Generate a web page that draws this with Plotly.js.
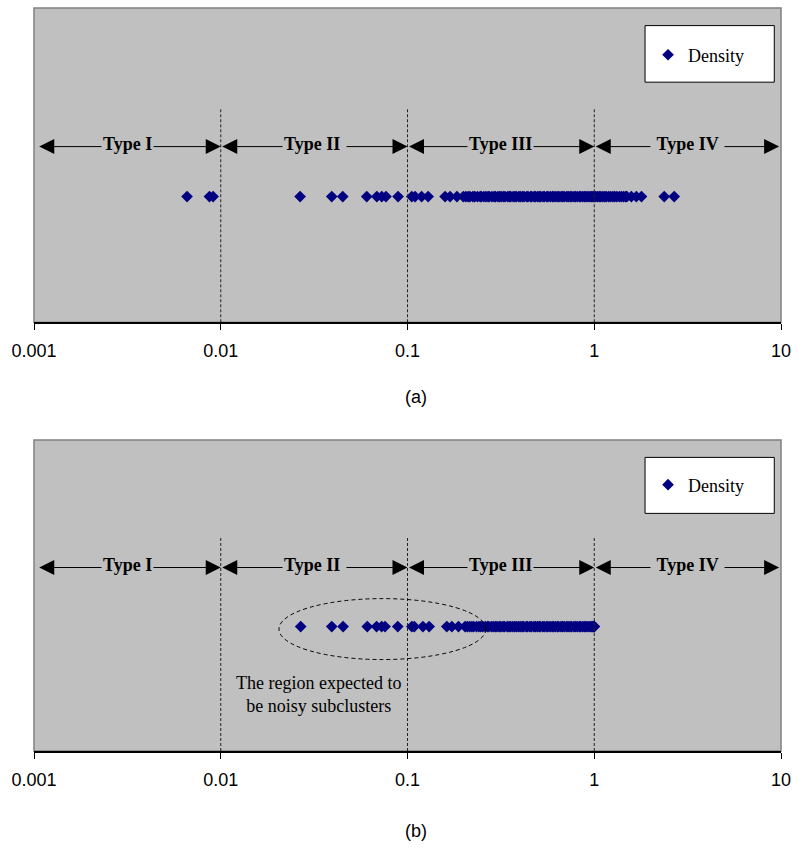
<!DOCTYPE html>
<html><head><meta charset="utf-8">
<script src="https://cdn.plot.ly/plotly-3.0.1.min.js"></script>
<style>html,body{margin:0;padding:0;background:#fff}</style>
</head><body><div id="chart" style="width:797px;height:848px"></div>
<script>
// ---- data ----
const densityA = [
  0.0066, 0.0087, 0.0091,
  0.0266, 0.0393, 0.0450, 0.0605, 0.0685, 0.0728, 0.0767, 0.0890,
  0.1054, 0.1098, 0.1190, 0.1290, 0.1590, 0.1690, 0.1840, 0.1990,
  0.2050, 0.2110, 0.2160, 0.2240, 0.2290, 0.2370, 0.2450, 0.2480, 0.2560, 0.2630,
  0.2700, 0.2740, 0.2830, 0.2910, 0.2960, 0.3050, 0.3120, 0.3180, 0.3270, 0.3330,
  0.3440, 0.3510, 0.3570, 0.3680, 0.3760, 0.3830, 0.3950, 0.4020, 0.4130, 0.4210,
  0.4350, 0.4420, 0.4560, 0.4630, 0.4770, 0.4850, 0.4980, 0.5090, 0.5170, 0.5320,
  0.5410, 0.5580, 0.5660, 0.5820, 0.5970, 0.6080, 0.6230, 0.6390, 0.6470, 0.6650,
  0.6790, 0.6920, 0.7130, 0.7260, 0.7440, 0.7580, 0.7790, 0.7930, 0.8120, 0.8340,
  0.8470, 0.8690, 0.8880, 0.9050, 0.9270, 0.9480, 0.9660, 0.9830, 0.9970, 1.0180,
  1.0420, 1.0650, 1.0860, 1.1130, 1.1390, 1.1620, 1.1950, 1.2240, 1.2580, 1.2870,
  1.3210, 1.3620, 1.3980, 1.4350, 1.4720, 1.4950, 1.5800, 1.6800, 1.7900,
  2.3700, 2.6800
];
const densityB = [
  0.0268, 0.0393, 0.0452, 0.0609, 0.0683, 0.0727, 0.0758, 0.0887,
  0.1055, 0.1087, 0.1209, 0.1306, 0.1623, 0.1728, 0.1875, 0.2035,
  0.2090, 0.2150, 0.2210, 0.2260, 0.2340, 0.2410, 0.2470, 0.2530, 0.2610, 0.2680,
  0.2720, 0.2810, 0.2880, 0.2950, 0.3020, 0.3100, 0.3160, 0.3250, 0.3310, 0.3420,
  0.3490, 0.3560, 0.3650, 0.3740, 0.3820, 0.3920, 0.4010, 0.4110, 0.4190, 0.4320,
  0.4400, 0.4530, 0.4610, 0.4750, 0.4840, 0.4960, 0.5070, 0.5150, 0.5300, 0.5400,
  0.5550, 0.5650, 0.5800, 0.5950, 0.6060, 0.6210, 0.6370, 0.6450, 0.6630, 0.6770,
  0.6900, 0.7100, 0.7240, 0.7420, 0.7560, 0.7770, 0.7910, 0.8100, 0.8310, 0.8450,
  0.8670, 0.8850, 0.9030, 0.9250, 0.9460, 0.9640, 0.9810, 0.9920, 1.0000, 1.0000
];
const seriesName = 'Density';
const typeLabels = ['Type I', 'Type II', 'Type III', 'Type IV'];
const typeBounds = [0.001, 0.01, 0.1, 1, 10];
const tickVals = [0.001, 0.01, 0.1, 1, 10];
const tickText = ['0.001', '0.01', '0.1', '1', '10'];
const panelLabels = ['(a)', '(b)'];
const noteText = 'The region expected to<br>be noisy subclusters';
const noiseRegion = [0.0205, 0.2627];

// ---- styling / layout ----
const NAVY = '#000080';
const SERIF = 'Liberation Serif, Times New Roman, serif';
const SANS = 'Liberation Sans, Arial, sans-serif';
const L = Math.log10;

const panels = [
  {xa: 'x', ya: 'y', data: densityA, rowY: 0.40, arrowY: 0.559, dashTop: 0.682, legend: 'legend'},
  {xa: 'x2', ya: 'y2', data: densityB, rowY: 0.40, arrowY: 0.590, dashTop: 0.686, legend: 'legend2'}
];

const traces = panels.map(p => ({
  type: 'scatter', mode: 'markers', name: seriesName,
  x: p.data, y: p.data.map(() => p.rowY),
  xaxis: p.xa, yaxis: p.ya, legend: p.legend, showlegend: true,
  marker: {symbol: 'diamond', size: 9, color: NAVY, line: {width: 0}},
  hoverinfo: 'x'
}));

const shapes = [];
const annotations = [];
const lastI = typeBounds.length - 1;
const labelText = ['Type I', 'Type II&nbsp;', 'Type III', '&nbsp;Type IV&nbsp;'];

panels.forEach((p, k) => {
  const xd = p.xa + ' domain', yd = p.ya + ' domain';
  shapes.push({type: 'rect', xref: xd, yref: yd, x0: 0, x1: 1, y0: 0, y1: 1,
    line: {color: '#808080', width: 1.5}, layer: 'below'});
  typeBounds.slice(1, lastI).forEach(b => {
    shapes.push({type: 'line', xref: p.xa, yref: p.ya, x0: b, x1: b, y0: 0, y1: p.dashTop,
      line: {color: '#222', width: 1, dash: '3px,2px'}, layer: 'above'});
  });
  shapes.push({type: 'rect', xref: xd, yref: yd, x0: 0.818, x1: 0.991, y0: 0.764, y1: 0.944,
    fillcolor: '#fff', line: {color: '#000', width: 1}, layer: 'above'});
  for (let i = 0; i < typeLabels.length; i++) {
    let a = L(typeBounds[i]), b = L(typeBounds[i + 1]);
    if (i === 0) a += 0.02;
    if (i === typeLabels.length - 1) b -= 0.01;
    annotations.push({xref: p.xa, yref: p.ya, axref: p.xa, ayref: p.ya,
      x: b, y: p.arrowY, ax: a, ay: p.arrowY, text: '', showarrow: true,
      arrowside: 'end+start', arrowhead: 2, startarrowhead: 2,
      arrowsize: 3, startarrowsize: 3, arrowwidth: 1, arrowcolor: '#000'});
    annotations.push({xref: p.xa, yref: p.ya, x: (L(typeBounds[i]) + L(typeBounds[i + 1])) / 2,
      y: p.arrowY, yshift: 3, text: '<b>' + labelText[i] + '</b>', showarrow: false,
      bgcolor: '#c0c0c0', borderpad: 1,
      font: {family: SERIF, size: 18, color: '#000'}});
  }
  annotations.push({xref: 'paper', yref: 'paper', x: 0.511, y: k === 0 ? 0.476 : -0.108,
    xanchor: 'center', yanchor: 'middle',
    text: panelLabels[k], showarrow: false, font: {family: SANS, size: 18, color: '#000'}});
});

shapes.push({type: 'circle', xref: 'x2', yref: 'y2', x0: noiseRegion[0], x1: noiseRegion[1],
  y0: 0.294, y1: 0.490, line: {color: '#000', width: 1, dash: '4px,3px'}, layer: 'above'});
annotations.push({xref: 'x2', yref: 'y2', x: (L(noiseRegion[0]) + L(noiseRegion[1])) / 2 - 0.34,
  y: 0.182, text: noteText, showarrow: false, align: 'center',
  font: {family: SERIF, size: 18, color: '#000'}});

const xaxisBase = {
  type: 'log', range: [-3, 1], tickvals: tickVals, ticktext: tickText,
  ticks: 'outside', ticklen: 6, tickcolor: '#000', tickwidth: 1,
  showline: true, linecolor: '#000', linewidth: 1.5,
  showgrid: false, zeroline: false, fixedrange: true,
  tickfont: {family: SANS, size: 18, color: '#000'}, ticklabelstandoff: 6
};
const yaxisBase = {range: [0, 1], visible: false, fixedrange: true, showgrid: false, zeroline: false};

const legendBase = {xanchor: 'left', yanchor: 'middle', bgcolor: 'rgba(0,0,0,0)', borderwidth: 0,
  font: {family: SERIF, size: 18, color: '#000'}, itemclick: false, itemdoubleclick: false};

const layout = {
  width: 797, height: 848,
  margin: {l: 34, r: 16, t: 8, b: 97},
  paper_bgcolor: '#fff', plot_bgcolor: '#c0c0c0',
  showlegend: true,
  xaxis: Object.assign({}, xaxisBase, {anchor: 'y', domain: [0, 1]}),
  yaxis: Object.assign({}, yaxisBase, {anchor: 'x', domain: [0.577, 1]}),
  xaxis2: Object.assign({}, xaxisBase, {anchor: 'y2', domain: [0, 1]}),
  yaxis2: Object.assign({}, yaxisBase, {anchor: 'x2', domain: [0, 0.4186]}),
  legend: Object.assign({}, legendBase, {x: 0.822, y: 0.9367}),
  legend2: Object.assign({}, legendBase, {x: 0.822, y: 0.358}),
  shapes: shapes,
  annotations: annotations
};

Plotly.newPlot('chart', traces, layout, {displayModeBar: false, staticPlot: true});
</script>
</body></html>
